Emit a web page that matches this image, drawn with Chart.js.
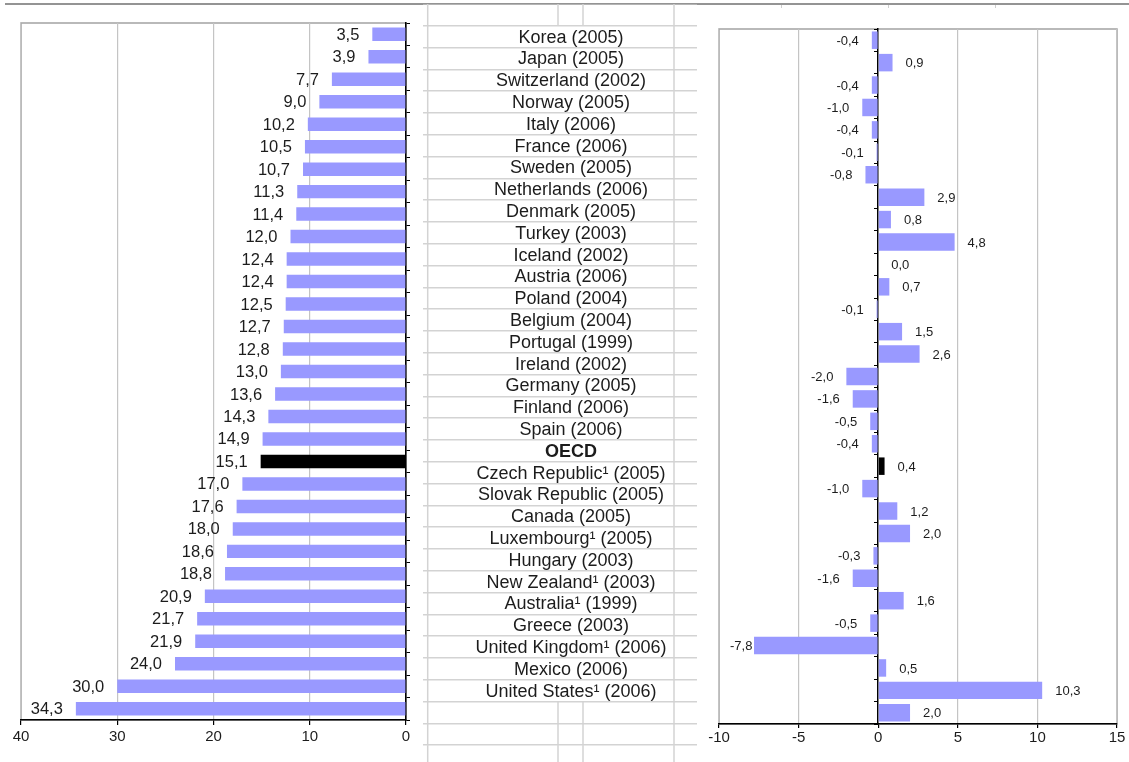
<!DOCTYPE html>
<html>
<head>
<meta charset="utf-8">
<script src="https://cdn.jsdelivr.net/npm/chart.js@4.4.0/dist/chart.umd.min.js"></script>
<style>
  html, body { margin: 0; padding: 0; background: #fff; width: 1129px; height: 762px; overflow: hidden; position: relative; }
  .panel { position: absolute; }
  #rule { position: absolute; left: 5px; top: 3px; width: 1124px; border-top: 2px solid #949494; }
  .colmark { position: absolute; top: 5px; width: 1px; height: 3px; background: #cfcfcf; }
</style>
</head>
<body>
<div id="rule"></div>
<div class="colmark" style="left:781px"></div>
<div class="colmark" style="left:888px"></div>
<div class="colmark" style="left:995px"></div>

<div class="panel" style="left:0;top:0;width:423px;height:762px"><canvas id="share" width="423" height="762"></canvas></div>
<div class="panel" style="left:423px;top:4px;width:274px;height:763px"><canvas id="names" width="274" height="763"></canvas></div>
<div class="panel" style="left:697px;top:0;width:432px;height:762px"><canvas id="change" width="432" height="762"></canvas></div>

<script>
// Countries (year of data) in ranking order
const countries = [
  'Korea (2005)', 'Japan (2005)', 'Switzerland (2002)', 'Norway (2005)', 'Italy (2006)',
  'France (2006)', 'Sweden (2005)', 'Netherlands (2006)', 'Denmark (2005)', 'Turkey (2003)',
  'Iceland (2002)', 'Austria (2006)', 'Poland (2004)', 'Belgium (2004)', 'Portugal (1999)',
  'Ireland (2002)', 'Germany (2005)', 'Finland (2006)', 'Spain (2006)', 'OECD',
  'Czech Republic\u00b9 (2005)', 'Slovak Republic (2005)', 'Canada (2005)', 'Luxembourg\u00b9 (2005)', 'Hungary (2003)',
  'New Zealand\u00b9 (2003)', 'Australia\u00b9 (1999)', 'Greece (2003)', 'United Kingdom\u00b9 (2006)', 'Mexico (2006)',
  'United States\u00b9 (2006)'
];

// Left panel: level (%)
const shareValues = [
  3.5, 3.9, 7.7, 9.0, 10.2, 10.5, 10.7, 11.3, 11.4, 12.0,
  12.4, 12.4, 12.5, 12.7, 12.8, 13.0, 13.6, 14.3, 14.9, 15.1,
  17.0, 17.6, 18.0, 18.6, 18.8, 20.9, 21.7, 21.9, 24.0, 30.0,
  34.3
];

// Right panel: change (percentage points)
const changeValues = [
  -0.4, 0.9, -0.4, -1.0, -0.4, -0.1, -0.8, 2.9, 0.8, 4.8,
  0.0, 0.7, -0.1, 1.5, 2.6, -2.0, -1.6, -0.5, -0.4, 0.4,
  -1.0, 1.2, 2.0, -0.3, -1.6, 1.6, -0.5, -7.8, 0.5, 10.3,
  2.0
];

const shareTicks = [0, 10, 20, 30, 40];
const changeTicks = [-10, -5, 0, 5, 10, 15];
const highlight = 'OECD';

// Rows of the name column: one empty row above, three below
const nameRows = [''].concat(countries, ['', '', '']);

const BAR = '#9999ff';
const FONT = '"Liberation Sans", Arial, Helvetica, sans-serif';
const INK = '#1c1c1c';

Chart.defaults.font.family = FONT;
Chart.defaults.color = INK;
Chart.defaults.animation = false;

const fmt = v => v.toFixed(1).replace('.', ',');
const barColors = countries.map(c => c === highlight ? '#000000' : BAR);

// Grey box around the plot area
const frame = {
  id: 'frame',
  beforeDraw(chart, args, opts) {
    const { ctx, chartArea: a } = chart;
    ctx.save();
    ctx.strokeStyle = opts.color;
    ctx.lineWidth = opts.width;
    ctx.strokeRect(a.left, a.top, a.right - a.left, a.bottom - a.top);
    ctx.restore();
  }
};

// Value labels just outside the end of each bar
const valueLabels = {
  id: 'valueLabels',
  afterDatasetsDraw(chart, args, opts) {
    const { ctx, chartArea: a } = chart;
    const meta = chart.getDatasetMeta(0);
    const values = chart.data.datasets[0].data;
    ctx.save();
    ctx.font = opts.size + 'px ' + FONT;
    ctx.fillStyle = INK;
    ctx.textBaseline = 'middle';
    meta.data.forEach((bar, i) => {
      const v = values[i];
      const text = fmt(v);
      const w = ctx.measureText(text).width;
      let x;
      if (opts.leftward || v < 0) {
        ctx.textAlign = 'right';
        x = bar.x - opts.gap;
        if (x - w < a.left + opts.inset) x = a.left + opts.inset + w;
      } else {
        ctx.textAlign = 'left';
        x = bar.x + opts.gap;
      }
      ctx.fillText(text, x, bar.y + opts.dy);
    });
    ctx.restore();
  }
};

// Left panel
new Chart(document.getElementById('share'), {
  type: 'bar',
  data: {
    labels: countries,
    datasets: [{ data: shareValues, backgroundColor: barColors, borderWidth: 0, barPercentage: 0.6, categoryPercentage: 1 }]
  },
  options: {
    responsive: false,
    indexAxis: 'y',
    layout: { padding: { left: 21, top: 23, right: 0, bottom: 0 } },
    plugins: {
      legend: { display: false },
      tooltip: { enabled: false },
      frame: { color: '#a3a3a3', width: 1.5 },
      valueLabels: { size: 16.5, gap: 13, dy: 1, inset: 4, leftward: true }
    },
    scales: {
      x: {
        type: 'linear', position: 'bottom', reverse: true, min: 0, max: 40,
        afterBuildTicks: s => { s.ticks = shareTicks.map(v => ({ value: v })); },
        ticks: { font: { size: 15 }, color: INK, padding: 3, callback: v => String(v) },
        grid: { color: '#c4c4c4', lineWidth: 1.2, tickColor: '#000', tickLength: 5 },
        border: { color: '#000', width: 1.5 },
        afterFit: s => { s.height = 42; }
      },
      y: {
        position: 'right', offset: true, z: 1,
        ticks: { display: false },
        grid: { drawOnChartArea: false, offset: true, color: '#000', tickLength: 4 },
        border: { color: '#000', width: 1.5 },
        afterFit: s => { s.width = 17; }
      }
    }
  },
  plugins: [frame, valueLabels]
});

// Name column, laid out as a ruled sheet
const nameGrid = {
  id: 'nameGrid',
  afterDraw(chart, args, opts) {
    const { ctx, chartArea: a, scales: { y } } = chart;
    const rows = chart.data.labels;
    const half = (y.getPixelForValue(1) - y.getPixelForValue(0)) / 2;
    ctx.save();
    ctx.strokeStyle = opts.lineColor;
    ctx.lineWidth = opts.lineWidth;
    rows.forEach((label, i) => {
      const yc = y.getPixelForValue(i);
      const cols = label === '' ? opts.blankCols : opts.textCols;
      cols.forEach(cx => {
        ctx.beginPath();
        ctx.moveTo(a.left + cx, yc - half);
        ctx.lineTo(a.left + cx, yc + half);
        ctx.stroke();
      });
      if (label) {
        ctx.font = (label === highlight ? 'bold ' : '') + opts.size + 'px ' + FONT;
        ctx.fillStyle = INK;
        ctx.textAlign = 'center';
        ctx.textBaseline = 'middle';
        ctx.fillText(label, a.left + opts.textCenter, yc + 1);
      }
    });
    ctx.restore();
  }
};

new Chart(document.getElementById('names'), {
  type: 'bar',
  data: { labels: nameRows, datasets: [] },
  options: {
    responsive: false,
    indexAxis: 'y',
    layout: { padding: 0 },
    plugins: {
      legend: { display: false },
      tooltip: { enabled: false },
      nameGrid: {
        lineColor: '#d3d3d3', lineWidth: 1.5, size: 18, textCenter: 148,
        textCols: [4.7, 251], blankCols: [4.7, 135, 160, 251]
      }
    },
    scales: {
      x: { type: 'linear', display: false, min: 0, max: 1 },
      y: {
        position: 'left', offset: true,
        ticks: { display: false },
        grid: { offset: true, color: '#d3d3d3', lineWidth: 1.5, drawTicks: false },
        border: { display: false },
        afterFit: s => { s.width = 0; }
      }
    }
  },
  plugins: [nameGrid]
});

// Right panel
new Chart(document.getElementById('change'), {
  type: 'bar',
  data: {
    labels: countries,
    datasets: [{ data: changeValues, backgroundColor: barColors, borderWidth: 0, barPercentage: 0.78, categoryPercentage: 1 }]
  },
  options: {
    responsive: false,
    indexAxis: 'y',
    layout: { padding: { left: 22, top: 29, right: 12, bottom: 0 } },
    plugins: {
      legend: { display: false },
      tooltip: { enabled: false },
      frame: { color: '#a3a3a3', width: 1.5 },
      valueLabels: { size: 13, gap: 13, dy: 1, inset: 11, leftward: false }
    },
    scales: {
      x: {
        type: 'linear', position: 'bottom', min: -10, max: 15,
        afterBuildTicks: s => { s.ticks = changeTicks.map(v => ({ value: v })); },
        ticks: { font: { size: 15 }, color: INK, padding: 1, callback: v => String(v) },
        grid: {
          color: c => (c.tick && c.tick.value === 0) ? 'rgba(0,0,0,0)' : '#c4c4c4',
          lineWidth: 1.2, tickColor: '#000', tickLength: 4
        },
        border: { color: '#000', width: 1.5 },
        afterFit: s => { s.height = 38; }
      },
      y: {
        position: { x: 0 }, offset: true, z: 1,
        ticks: { display: false },
        grid: { drawOnChartArea: false, offset: true, color: '#000', tickLength: 3 },
        border: { color: '#000', width: 1.5 }
      }
    }
  },
  plugins: [frame, valueLabels]
});
</script>
</body>
</html>
